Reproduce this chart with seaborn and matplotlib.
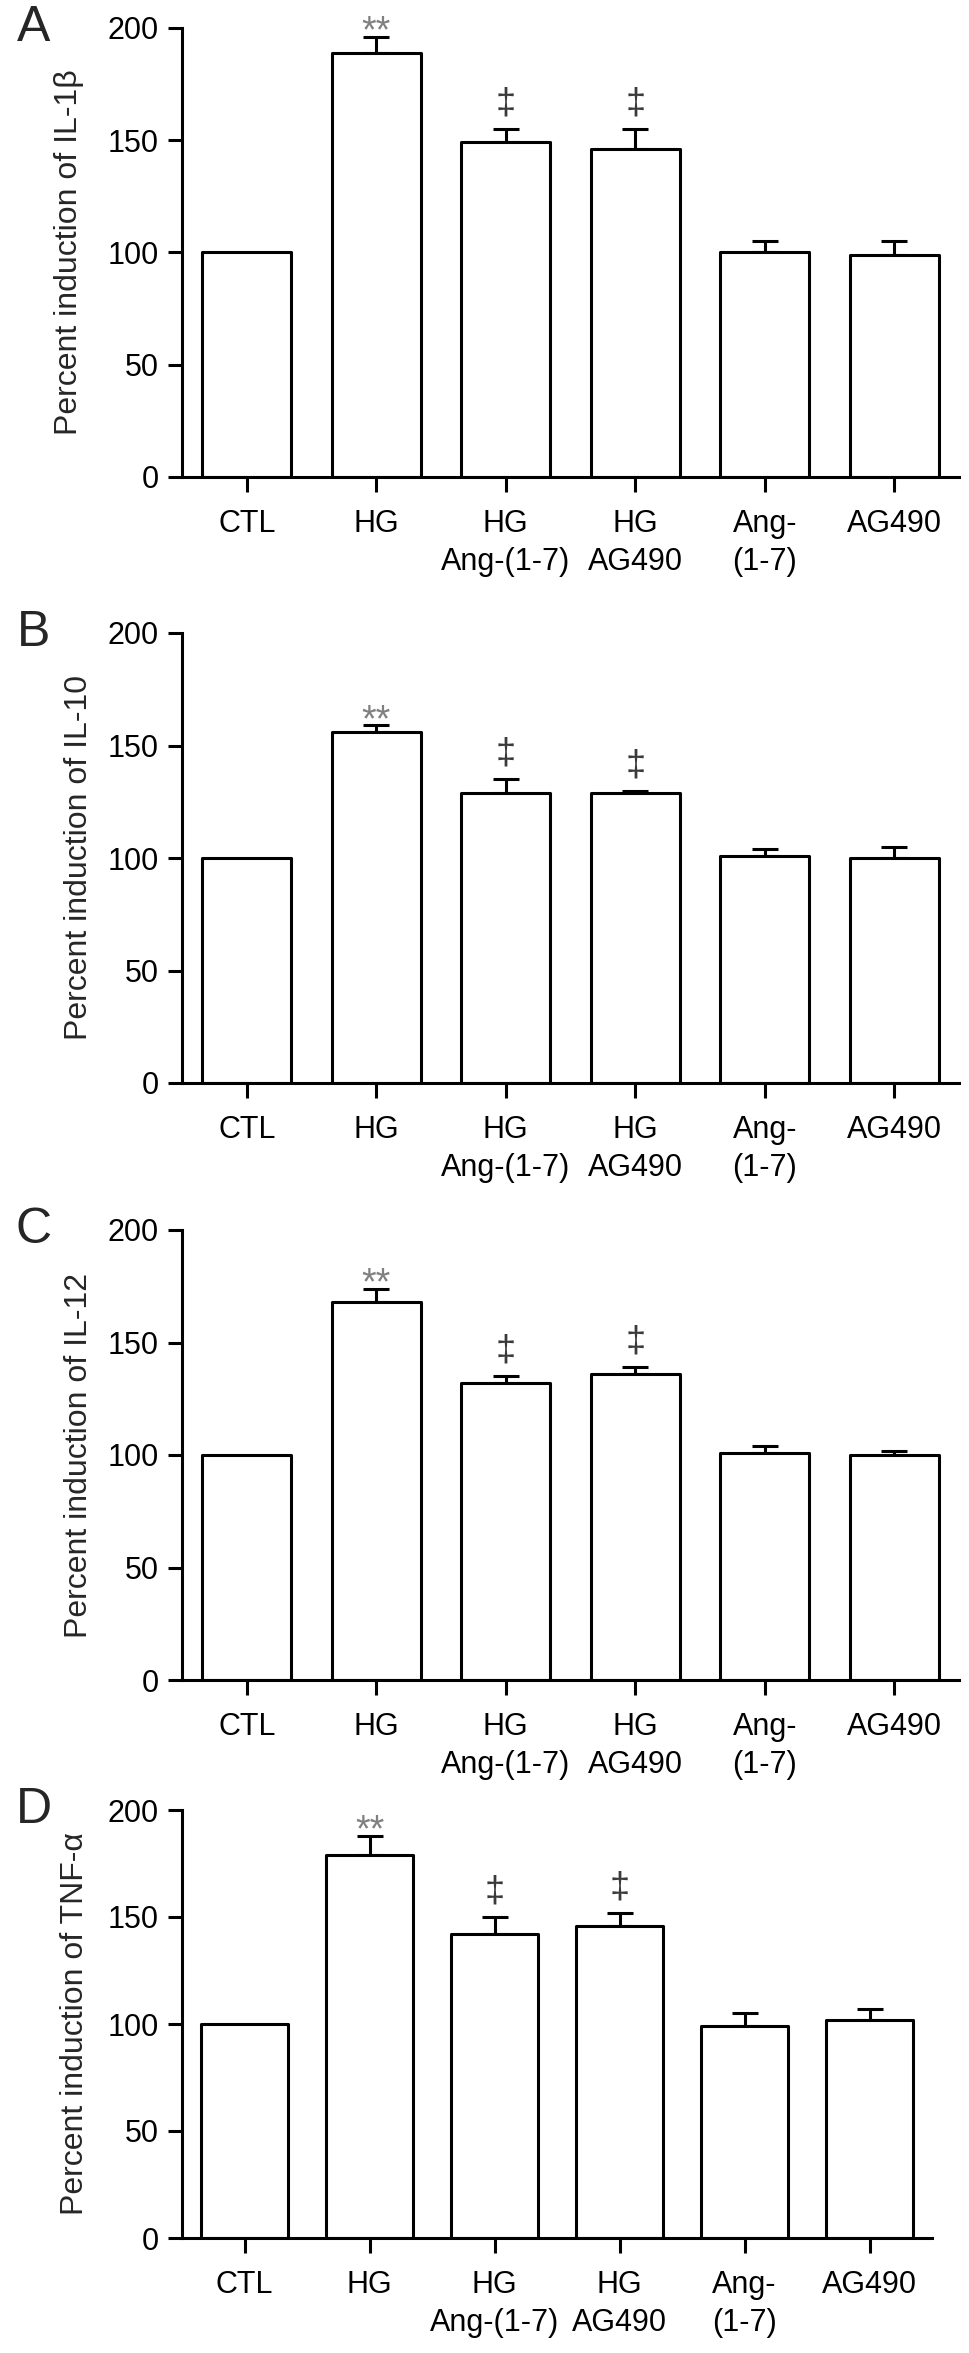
import numpy as np
import pandas as pd
import matplotlib
matplotlib.use("Agg")
import matplotlib.pyplot as plt
import seaborn as sns

# ---------------- data ----------------
groups = ["CTL", "HG", "HG\nAng-(1-7)", "HG\nAG490", "Ang-\n(1-7)", "AG490"]

il1b_mean = [100, 189, 149, 146, 100, 99]
il1b_err = [0, 7, 6, 9, 5, 6]

il10_mean = [100, 156, 129, 129, 101, 100]
il10_err = [0, 3, 6, 1, 3, 5]

il12_mean = [100, 168, 132, 136, 101, 100]
il12_err = [0, 6, 3, 3, 3, 2]

tnfa_mean = [100, 179, 142, 146, 99, 102]
tnfa_err = [0, 9, 8, 6, 6, 5]

sig_marks = ["", "**", "\u2021", "\u2021", "", ""]

panel_letters = ["A", "B", "C", "D"]
ylabels = ["Percent induction of IL-1\u03b2", "Percent induction of IL-10",
           "Percent induction of IL-12", "Percent induction of TNF-\u03b1"]
yticks = [0, 50, 100, 150, 200]

# ---------------- style ----------------
sns.set_style("ticks")
plt.rcParams["font.family"] = ["Liberation Sans", "DejaVu Sans"]

W, H = 969, 2353
fig = plt.figure(figsize=(W / 100, H / 100), dpi=100)

# axes boxes in pixels: (left, top, right, bottom)
boxes = [(182, 28, 959, 477), (182, 633, 959, 1083),
         (182, 1230, 959, 1680), (182, 1810, 932, 2238)]
label_x = [84, 94, 94, 90]

means = [il1b_mean, il10_mean, il12_mean, tnfa_mean]
errs = [il1b_err, il10_err, il12_err, tnfa_err]

LW = 2.2
for k, (l, t, r, b) in enumerate(boxes):
    ax = fig.add_axes([l / W, 1 - b / H, (r - l) / W, (b - t) / H])
    df = pd.DataFrame({"group": groups, "value": means[k]})
    sns.barplot(data=df, x="group", y="value", ax=ax, color="white",
                edgecolor="black", linewidth=LW, width=0.69, errorbar=None,
                saturation=1)
    for p in ax.patches:
        p.set_facecolor("white")
        p.set_joinstyle("round")
        p.set_zorder(2)
    x = np.arange(len(groups))
    m = np.array(means[k], dtype=float)
    e = np.array(errs[k], dtype=float)
    keep = e > 0
    ax.errorbar(x[keep], m[keep], yerr=[np.zeros(keep.sum()), e[keep]],
                fmt="none", ecolor="black", elinewidth=LW, capsize=9.5,
                capthick=LW, zorder=1)
    for i, s in enumerate(sig_marks):
        if not s:
            continue
        top = m[i] + e[i]
        if s == "**":
            ax.annotate(s, xy=(i, top), xytext=(0, -4), textcoords="offset points",
                        ha="center", va="baseline", fontsize=27, color="#808080")
        else:
            ax.annotate(s, xy=(i, top), xytext=(0, 11), textcoords="offset points",
                        ha="center", va="baseline", fontsize=26, color="#3a3a3a")
    ax.set_xlim(-0.5, len(groups) - 0.5)
    ax.set_ylim(0, 200)
    ax.set_yticks(yticks)
    ax.set_xlabel("")
    ax.set_ylabel(ylabels[k], fontsize=23)
    ax.yaxis.set_label_coords((label_x[k] - l) / (r - l), 0.5)
    sns.despine(ax=ax)
    for sp in ["left", "bottom"]:
        ax.spines[sp].set_linewidth(LW)
        ax.spines[sp].set_color("black")
    ax.tick_params(axis="y", length=10, width=LW, pad=7, labelsize=22, colors="black")
    ax.tick_params(axis="x", length=11, width=LW, pad=12, labelsize=22, colors="black")
    for lab in ax.get_xticklabels():
        lab.set_multialignment("center")
        lab.set_linespacing(1.35)
    ax.set_facecolor("white")
    fig.text(34 / W, 1 - t / H, panel_letters[k], fontsize=36,
             ha="center", va="center")

fig.savefig("out.png", dpi=100, facecolor="white")
